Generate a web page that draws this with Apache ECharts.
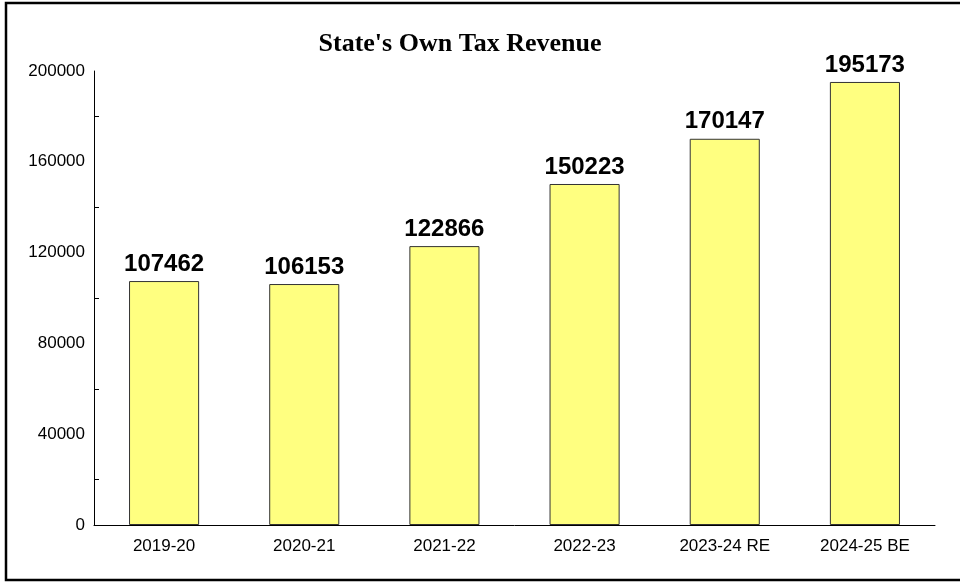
<!DOCTYPE html>
<html>
<head>
<meta charset="utf-8">
<script src="https://cdn.jsdelivr.net/npm/echarts@6/dist/echarts.min.js"></script>
<style>html,body{margin:0;padding:0;background:#fff;}#c{width:960px;height:582px;}</style>
</head>
<body>
<div id="c"></div>
<script>
const titleText = "State's Own Tax Revenue";
const categories = ['2019-20', '2020-21', '2021-22', '2022-23', '2023-24 RE', '2024-25 BE'];
const revenue = [107462, 106153, 122866, 150223, 170147, 195173];
const yMin = 0, yMax = 200000, yInterval = 40000;

const chart = echarts.init(document.getElementById('c'), null, {renderer: 'canvas'});
chart.setOption({
  animation: false,
  backgroundColor: '#fff',
  grid: {left: 94, right: 25, top: 71, bottom: 57, containLabel: false},
  graphic: [
    {type: 'rect', shape: {x: 6, y: 3, width: 1000, height: 577}, style: {fill: 'none', stroke: '#000', lineWidth: 2.5}, silent: true},
    {type: 'text', x: 460, y: 44, style: {text: titleText, textAlign: 'center', textVerticalAlign: 'middle', font: 'bold 26px "Liberation Serif", "Times New Roman", serif', fill: '#000'}}
  ],
  xAxis: {
    type: 'category',
    data: categories,
    axisLine: {lineStyle: {color: '#000', width: 1}},
    axisTick: {show: false},
    axisLabel: {color: '#000', fontSize: 17, fontFamily: '"Liberation Sans", Arial, sans-serif', margin: 13}
  },
  yAxis: {
    type: 'value',
    min: yMin, max: yMax, interval: yInterval,
    axisLine: {show: true, lineStyle: {color: '#000', width: 1}},
    axisTick: {show: false, inside: true},
    minorTick: {show: true, splitNumber: 2, length: 5, lineStyle: {color: '#000', width: 1}},
    splitLine: {show: false},
    axisLabel: {color: '#000', fontSize: 17, fontFamily: '"Liberation Sans", Arial, sans-serif', margin: 9, formatter: v => String(v)}
  },
  series: [{
    type: 'bar',
    data: revenue,
    barWidth: '50%',
    itemStyle: {color: '#FFFF80', borderColor: '#333', borderWidth: 1},
    label: {show: true, position: 'top', distance: 5, color: '#000', fontSize: 24, fontWeight: 'bold', fontFamily: '"Liberation Sans", Arial, sans-serif'}
  }]
});
</script>
</body>
</html>
